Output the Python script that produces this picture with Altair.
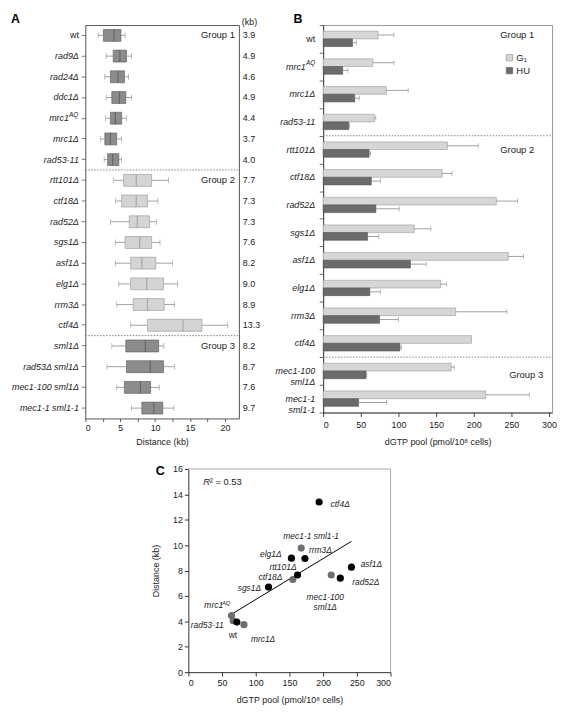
import altair as alt
import pandas as pd

FONT = "Liberation Sans"

# ================= Panel A data =================
A_strains = ["wt", "rad9Δ", "rad24Δ", "ddc1Δ", "mrc1AQ", "mrc1Δ", "rad53-11",
             "rtt101Δ", "ctf18Δ", "rad52Δ", "sgs1Δ", "asf1Δ", "elg1Δ", "rrm3Δ", "ctf4Δ",
             "sml1Δ", "rad53Δ sml1Δ", "mec1-100 sml1Δ", "mec1-1 sml1-1"]
A_group = ["1"] * 7 + ["2"] * 8 + ["3"] * 4
A_whisker_lo = [1.85, 3.0, 2.8, 3.0, 2.9, 2.2, 2.7, 4.0, 4.35, 3.6, 4.3, 4.3, 4.8, 4.5, 6.5, 3.8, 3.1, 4.5, 6.6]
A_q1 = [2.6, 4.0, 3.6, 3.8, 3.6, 2.8, 3.2, 5.5, 5.2, 6.3, 5.7, 6.5, 6.5, 6.85, 8.9, 5.8, 5.9, 5.6, 8.1]
A_median = [4.1, 4.95, 4.7, 4.9, 4.3, 3.6, 3.9, 7.3, 7.3, 7.45, 7.8, 8.1, 8.8, 8.9, 14.0, 8.6, 9.3, 7.9, 9.8]
A_q3 = [5.1, 5.9, 5.6, 5.8, 5.2, 4.5, 4.8, 9.5, 8.9, 9.2, 9.5, 10.1, 11.2, 11.3, 16.7, 10.5, 11.2, 9.35, 11.1]
A_whisker_hi = [5.7, 6.6, 6.2, 6.6, 5.9, 5.2, 5.2, 11.9, 10.4, 10.2, 10.7, 12.5, 13.2, 12.8, 20.4, 11.25, 12.8, 10.6, 12.7]
A_kb_labels = ["3.9", "4.9", "4.6", "4.9", "4.4", "3.7", "4.0", "7.7", "7.3", "7.3", "7.6",
               "8.2", "9.0", "8.9", "13.3", "8.2", "8.7", "7.6", "9.7"]
A_group_rows = ["wt", "rtt101Δ", "sml1Δ"]
A_group_names = ["Group 1", "Group 2", "Group 3"]
A_separators = ["rtt101Δ", "sml1Δ"]

# ================= Panel B data =================
B_strains = ["wt", "mrc1AQ", "mrc1Δ", "rad53-11", "rtt101Δ", "ctf18Δ", "rad52Δ", "sgs1Δ",
             "asf1Δ", "elg1Δ", "rrm3Δ", "ctf4Δ", "mec1-100 sml1Δ", "mec1-1 sml1-1"]
B_series = ["G₁", "HU"]
B_G1 = [73, 66, 84, 68, 165, 158, 230, 121, 246, 156, 176, 197, 170, 216]
B_G1_err = [94, 94, 113, 70, 206, 171, 258, 143, 266, 164, 244, 197, 174, 274]
B_HU = [39, 26, 42, 34, 61, 64, 70, 59, 116, 62, 75, 102, 57, 47]
B_HU_err = [44, 33, 48, 35, 63, 76, 101, 74, 137, 76, 100, 104, 58, 84]
B_display = ["wt", "mrc1", "mrc1Δ", "rad53-11", "rtt101Δ", "ctf18Δ", "rad52Δ", "sgs1Δ",
             "asf1Δ", "elg1Δ", "rrm3Δ", "ctf4Δ", "mec1-100\nsml1Δ", "mec1-1\nsml1-1"]
B_group_rows = ["wt", "rtt101Δ", "mec1-100 sml1Δ"]
B_separators = ["rtt101Δ", "mec1-100 sml1Δ"]

# ================= Panel C data =================
C_strains = ["wt", "mrc1AQ", "mrc1Δ", "rad53-11", "rtt101Δ", "ctf18Δ", "rad52Δ", "sgs1Δ",
             "asf1Δ", "elg1Δ", "rrm3Δ", "ctf4Δ", "mec1-100 sml1Δ", "mec1-1 sml1-1"]
C_dgtp = [72, 64, 82.5, 66.5, 162, 155, 225.5, 119, 242, 153, 173, 194, 212, 167.5]
C_dist = [3.94, 4.46, 3.74, 4.05, 7.65, 7.3, 7.4, 6.7, 8.27, 8.98, 8.95, 13.4, 7.65, 9.77]
C_shade = ["black", "gray", "gray", "gray", "black", "gray", "black", "black",
           "black", "black", "black", "black", "gray", "gray"]

# label layout for panel C (text, dx, dy, align, style)
C_label_layout = {
    "wt": ("wt", -4, 13.5, "center", "normal"),
    "mrc1AQ": ("mrc1", -8.5, -10.5, "right", "italic"),
    "mrc1Δ": ("mrc1Δ", 7, 14, "left", "italic"),
    "rad53-11": ("rad53-11", -9.5, 4.3, "right", "italic"),
    "rtt101Δ": ("rtt101Δ", -1, -8.5, "right", "italic"),
    "ctf18Δ": ("ctf18Δ", -10.5, -2.5, "right", "italic"),
    "rad52Δ": ("rad52Δ", 12, 4, "left", "italic"),
    "sgs1Δ": ("sgs1Δ", -7.5, 1, "right", "italic"),
    "asf1Δ": ("asf1Δ", 9.3, -3.3, "left", "italic"),
    "elg1Δ": ("elg1Δ", -10, -4.3, "right", "italic"),
    "rrm3Δ": ("rrm3Δ", 4, -8.3, "left", "italic"),
    "ctf4Δ": ("ctf4Δ", 11.6, 2, "left", "italic"),
    "mec1-100 sml1Δ": ("mec1-100\nsml1Δ", -6, 22, "center", "italic"),
    "mec1-1 sml1-1": ("mec1-1 sml1-1", 10, -12.6, "center", "italic"),
}

dummy = pd.DataFrame({"d": [0]})
TXT = "#222"


def anchor(x, y):
    return alt.Chart(dummy).mark_point(opacity=0, size=1, filled=True).encode(
        x=alt.value(x), y=alt.value(y))


def letter(t, x, y):
    return alt.Chart(dummy).mark_text(text=t, fontSize=12.5, fontWeight="bold", align="left",
                                      baseline="top", color="black").encode(x=alt.value(x), y=alt.value(y))


# ================= Panel A chart =================
A_W, A_H = 155, 397
dfA = pd.DataFrame({"strain": A_strains, "group": A_group, "wlo": A_whisker_lo, "q1": A_q1,
                    "med": A_median, "q3": A_q3, "whi": A_whisker_hi, "val": A_kb_labels})

A_yaxis = alt.Axis(labels=False, ticks=True, tickSize=4, tickColor="#555", tickWidth=0.8,
                   domain=False, title=None)
A_xaxis = alt.Axis(values=[0, 2.5, 5, 7.5, 10, 12.5, 15, 17.5, 20],
                   labelExpr="datum.value % 5 === 0 ? datum.label : ''",
                   tickSize=3, tickColor="#555", domain=False, labelPadding=2, titlePadding=5)


def yA(**kw):
    return alt.Y("strain:N", scale=alt.Scale(domain=A_strains, paddingInner=0, paddingOuter=0),
                 axis=A_yaxis, **kw)


def xA(f):
    return alt.X(f"{f}:Q", scale=alt.Scale(domain=[0, 22], nice=False), axis=A_xaxis,
                 title="Distance (kb)")


baseA = alt.Chart(dfA)
WHISK = "#8a8a8a"
A_layers = [
    baseA.mark_rule(color=WHISK, strokeWidth=0.8).encode(x=xA("wlo"), x2="q1:Q", y=yA()),
    baseA.mark_rule(color=WHISK, strokeWidth=0.8).encode(x=xA("q3"), x2="whi:Q", y=yA()),
    baseA.mark_tick(size=6, thickness=0.8, color=WHISK).encode(x=xA("wlo"), y=yA()),
    baseA.mark_tick(size=6, thickness=0.8, color=WHISK).encode(x=xA("whi"), y=yA()),
    baseA.transform_filter(alt.datum.group != "2").mark_bar(
        size=12, fill="#8c8c8c", stroke="#636363", strokeWidth=0.7).encode(x=xA("q1"), x2="q3:Q", y=yA()),
    baseA.transform_filter(alt.datum.group == "2").mark_bar(
        size=12, fill="#d4d4d4", stroke="#a0a0a0", strokeWidth=0.7).encode(x=xA("q1"), x2="q3:Q", y=yA()),
    baseA.transform_filter(alt.datum.group != "2").mark_tick(
        size=12, thickness=1.2, color="#555555").encode(x=xA("med"), y=yA()),
    baseA.transform_filter(alt.datum.group == "2").mark_tick(
        size=12, thickness=1.2, color="#959595").encode(x=xA("med"), y=yA()),
    alt.Chart(pd.DataFrame({"strain": A_separators})).mark_rule(
        color="#777", strokeDash=[1.5, 1.5], strokeWidth=0.9).encode(
        x=alt.value(0), x2=alt.value(A_W), y=yA(bandPosition=0)),
    alt.Chart(pd.DataFrame({"strain": A_group_rows, "t": A_group_names})).mark_text(
        align="right", baseline="middle", fontSize=9.5, color=TXT).encode(
        x=alt.value(A_W - 4), y=yA(), text="t:N"),
    baseA.mark_text(align="left", baseline="middle", fontSize=9, color=TXT).encode(
        x=alt.value(A_W + 4), y=yA(), text="val:N"),
    alt.Chart(dummy).mark_text(text="(kb)", align="left", baseline="middle", fontSize=9,
                               color=TXT).encode(x=alt.value(A_W + 3), y=alt.value(-3)),
    alt.Chart(pd.DataFrame({"strain": [s for s in A_strains if s not in ("wt", "mrc1AQ")]})).mark_text(
        align="right", baseline="middle", fontSize=9, fontStyle="italic", color=TXT).encode(
        x=alt.value(-6.5), y=yA(), text="strain:N"),
    alt.Chart(pd.DataFrame({"strain": ["wt"]})).mark_text(
        align="right", baseline="middle", fontSize=9, color=TXT).encode(
        x=alt.value(-6.5), y=yA(), text="strain:N"),
    alt.Chart(pd.DataFrame({"strain": ["mrc1AQ"], "t": ["mrc1"]})).mark_text(
        align="right", baseline="middle", fontSize=9, fontStyle="italic", color=TXT).encode(
        x=alt.value(-16.5), y=yA(), text="t:N"),
    alt.Chart(pd.DataFrame({"strain": ["mrc1AQ"], "t": ["AQ"]})).mark_text(
        align="right", baseline="middle", fontSize=6.5, fontStyle="italic", dy=-3.5, color=TXT).encode(
        x=alt.value(-7), y=yA(), text="t:N"),
    letter("A", -75, -12),
    anchor(-77, -12.5),
]
chartA = alt.layer(*A_layers).properties(
    width=A_W, height=A_H, view=alt.ViewBackground(stroke="#555", strokeWidth=1))

# ================= Panel B chart =================
B_W, B_H = 231, 391
dfB = pd.DataFrame({
    "strain": B_strains * 2,
    "series": [B_series[0]] * len(B_strains) + [B_series[1]] * len(B_strains),
    "value": B_G1 + B_HU,
    "err": B_G1_err + B_HU_err,
})
B_yaxis = alt.Axis(labels=False, ticks=True, tickBand="extent", tickSize=4, tickColor="#444",
                   tickWidth=0.8, domainColor="#444", title=None)
B_xaxis = alt.Axis(values=[0, 50, 100, 150, 200, 250, 300], tickSize=4, tickColor="#444",
                   domainColor="#444", labelPadding=4, titlePadding=8)


def yB(**kw):
    return alt.Y("strain:N", scale=alt.Scale(domain=B_strains, paddingInner=0, paddingOuter=0),
                 axis=B_yaxis, **kw)


def xB(f):
    return alt.X(f"{f}:Q", scale=alt.Scale(domain=[0, 304], nice=False), axis=B_xaxis,
                 title="dGTP pool (pmol/10⁸ cells)")


yOffB = alt.YOffset("series:N", scale=alt.Scale(domain=B_series, paddingInner=0, paddingOuter=0.8))
baseB = alt.Chart(dfB)
dfBlab = pd.DataFrame({"strain": B_strains, "t": B_display})
B_FILL = {"G₁": "#d6d6d6", "HU": "#6b6b6b"}
B_EDGE = {"G₁": "#9a9a9a", "HU": "#555555"}

B_layers = []
for s in B_series:
    B_layers.append(
        baseB.transform_filter(alt.datum.series == s).mark_bar(
            fill=B_FILL[s], stroke=B_EDGE[s], strokeWidth=0.6).encode(
            x=xB("value"), y=yB(), yOffset=yOffB))
B_layers += [
    baseB.transform_filter("datum.err > datum.value").mark_rule(color="#888", strokeWidth=0.8).encode(
        x=xB("value"), x2="err:Q", y=yB(), yOffset=yOffB),
    baseB.transform_filter("datum.err > datum.value").mark_tick(size=5, thickness=0.8, color="#888").encode(
        x=xB("err"), y=yB(), yOffset=yOffB),
    alt.Chart(pd.DataFrame({"strain": B_separators})).mark_rule(
        color="#777", strokeDash=[1.5, 1.5], strokeWidth=0.9).encode(
        x=alt.value(0), x2=alt.value(B_W), y=yB(bandPosition=0)),
    alt.Chart(dfBlab[~dfBlab.strain.isin(["wt", "mrc1AQ"])]).mark_text(
        align="right", baseline="middle", fontSize=9, fontStyle="italic", lineBreak="\n",
        lineHeight=11, color=TXT).encode(x=alt.value(-8), y=yB(), text="t:N"),
    alt.Chart(dfBlab[dfBlab.strain == "wt"]).mark_text(
        align="right", baseline="middle", fontSize=9, color=TXT).encode(
        x=alt.value(-8), y=yB(), text="t:N"),
    alt.Chart(dfBlab[dfBlab.strain == "mrc1AQ"]).mark_text(
        align="right", baseline="middle", fontSize=9, fontStyle="italic", color=TXT).encode(
        x=alt.value(-17.5), y=yB(), text="t:N"),
    alt.Chart(pd.DataFrame({"strain": ["mrc1AQ"], "t": ["AQ"]})).mark_text(
        align="right", baseline="middle", fontSize=6.5, fontStyle="italic", dy=-3.5, color=TXT).encode(
        x=alt.value(-8), y=yB(), text="t:N"),
    alt.Chart(pd.DataFrame({"strain": [B_group_rows[0]], "t": ["Group 1"]})).mark_text(
        align="right", baseline="middle", fontSize=9.5, dy=-4, color=TXT).encode(
        x=alt.value(B_W - 18), y=yB(), text="t:N"),
    alt.Chart(pd.DataFrame({"strain": [B_group_rows[1]], "t": ["Group 2"]})).mark_text(
        align="right", baseline="middle", fontSize=9.5, color=TXT).encode(
        x=alt.value(B_W - 18), y=yB(), text="t:N"),
    alt.Chart(pd.DataFrame({"strain": [B_group_rows[2]], "t": ["Group 3"]})).mark_text(
        align="right", baseline="middle", fontSize=9.5, dy=4, color=TXT).encode(
        x=alt.value(B_W - 9), y=yB(), text="t:N"),
    # legend (drawn by hand)
    alt.Chart(dummy).mark_square(size=40, fill=B_FILL["G₁"], stroke="#888", strokeWidth=0.6, opacity=1).encode(
        x=alt.value(B_W - 43), y=alt.value(33)),
    alt.Chart(dummy).mark_square(size=40, fill=B_FILL["HU"], stroke="#555", strokeWidth=0.6, opacity=1).encode(
        x=alt.value(B_W - 43), y=alt.value(46)),
    alt.Chart(dummy).mark_text(text="G₁", align="left", baseline="middle", fontSize=9.5, color=TXT).encode(
        x=alt.value(B_W - 36), y=alt.value(33)),
    alt.Chart(dummy).mark_text(text="HU", align="left", baseline="middle", fontSize=9.5, color=TXT).encode(
        x=alt.value(B_W - 36), y=alt.value(46)),
    letter("B", -30, -12),
]
chartB = alt.layer(*B_layers).properties(
    width=B_W, height=B_H, view=alt.ViewBackground(stroke="#999", strokeWidth=1))

# ================= Panel C chart =================
# panel C sits under panel A's column; its plot area is shifted right by C_OFF pixels
C_OFF, C_W, C_H = 104, 204, 205
dfC = pd.DataFrame({"strain": C_strains, "dgtp": C_dgtp, "dist": C_dist, "shade": C_shade})
C_xaxis = alt.Axis(values=[0, 50, 100, 150, 200, 250, 300], tickSize=4, tickColor="#333",
                   domainColor="#333", labelPadding=2, titlePadding=9)
C_yaxis = alt.Axis(values=[0, 2, 4, 6, 8, 10, 12, 14, 16], tickSize=4, tickColor="#333",
                   domainColor="#333", labelPadding=2, titlePadding=12, offset=-C_OFF)


def xC():
    return alt.X("dgtp:Q", scale=alt.Scale(domain=[0, 300], nice=False, range=[C_OFF, C_OFF + C_W]),
                 axis=C_xaxis, title="dGTP pool (pmol/10⁸ cells)")


def yC():
    return alt.Y("dist:Q", scale=alt.Scale(domain=[0, 16], nice=False), axis=C_yaxis,
                 title="Distance (kb)")


baseC = alt.Chart(dfC)
C_COL = {"black": "#000000", "gray": "#6e6e6e"}
C_layers = [
    # light frame on top and right
    alt.Chart(dummy).mark_rule(color="#aaa", strokeWidth=1).encode(
        x=alt.value(C_OFF), x2=alt.value(C_OFF + C_W), y=alt.value(0)),
    alt.Chart(dummy).mark_rule(color="#aaa", strokeWidth=1).encode(
        x=alt.value(C_OFF + C_W), y=alt.value(0), y2=alt.value(C_H)),
    baseC.transform_regression("dgtp", "dist").mark_line(color="black", strokeWidth=1).encode(
        x=xC(), y=yC()),
]
for sh in ["gray", "black"]:
    C_layers.append(baseC.transform_filter(alt.datum.shade == sh).mark_circle(
        size=52, opacity=1, color=C_COL[sh]).encode(x=xC(), y=yC()))
for key, (txt, dx, dy, align, style) in C_label_layout.items():
    C_layers.append(
        baseC.transform_filter(alt.datum.strain == key).mark_text(
            text=txt, dx=dx, dy=dy, align=align, baseline="middle", fontSize=8.5, fontStyle=style,
            lineBreak="\n", lineHeight=10, color=TXT).encode(x=xC(), y=yC()))
C_layers += [
    baseC.transform_filter(alt.datum.strain == "mrc1AQ").mark_text(
        text="AQ", dx=-1, dy=-13, align="right", baseline="middle", fontSize=6, fontStyle="italic",
        color=TXT).encode(x=xC(), y=yC()),
    alt.Chart(dummy).mark_text(text="R", align="left", baseline="middle", fontSize=9.5,
                               fontStyle="italic", color=TXT).encode(x=alt.value(C_OFF + 15), y=alt.value(13.5)),
    alt.Chart(dummy).mark_text(text="² = 0.53", align="left", baseline="middle", fontSize=9.5,
                               color=TXT).encode(x=alt.value(C_OFF + 21.5), y=alt.value(13.5)),
    letter("C", C_OFF - 33, -4),
]
chartC = alt.layer(*C_layers).properties(
    width=A_W, height=C_H, view=alt.ViewBackground(stroke="transparent"))

chart = alt.ConcatChart(
    concat=[chartA, chartB, chartC], columns=2, bounds="flush",
    spacing=alt.RowColnumber(row=51, column=85),
).properties(padding=0).configure(font=FONT).configure_axis(
    labelFont=FONT, titleFont=FONT, labelFontSize=9, titleFontSize=9, titleFontWeight="normal",
    labelColor=TXT, titleColor=TXT, grid=False)

chart.save("out.html", embed_options={"renderer": "svg", "actions": False})
